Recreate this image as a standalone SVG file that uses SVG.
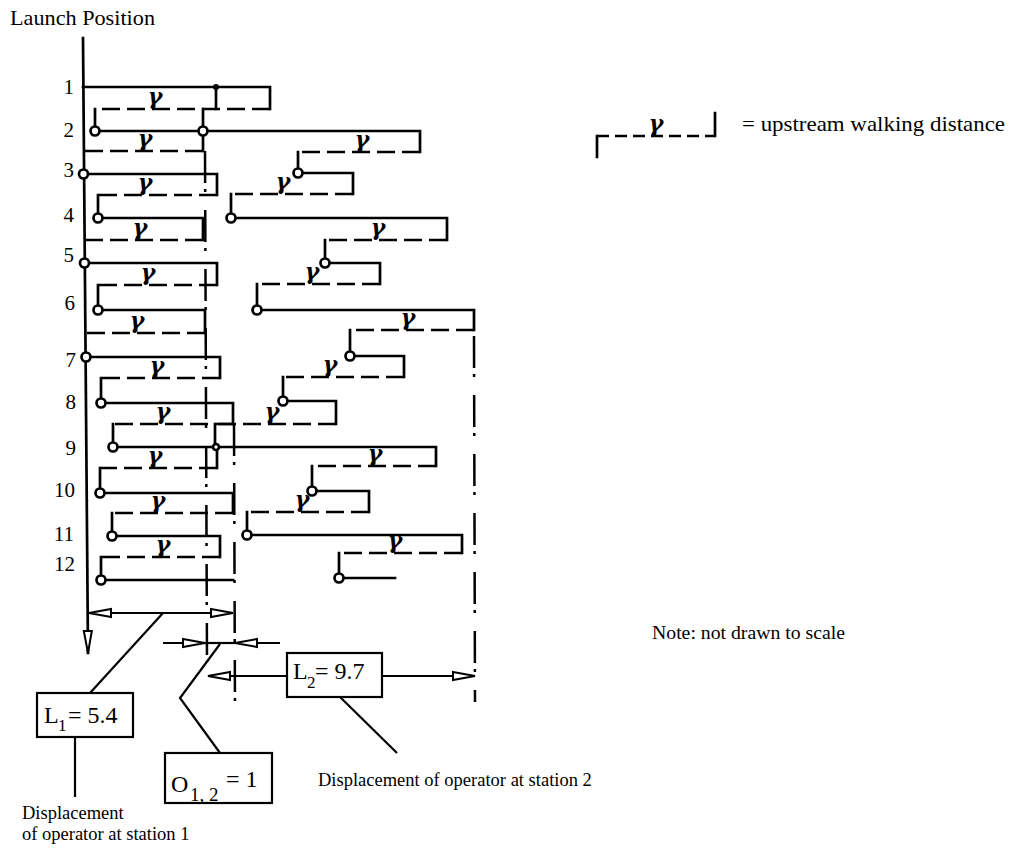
<svg xmlns="http://www.w3.org/2000/svg" width="1014" height="851" viewBox="0 0 1014 851">
<style>
  .ln{fill:none;stroke:#000;stroke-width:2.7;stroke-linecap:square}
  .ds{fill:none;stroke:#000;stroke-width:2.7;stroke-dasharray:18 7}
  .dd{fill:none;stroke:#000;stroke-width:2.5;stroke-dasharray:32 6 3 18}
  .thin{fill:none;stroke:#000;stroke-width:2.2}
  .c{fill:#fff;stroke:#000;stroke-width:2.7}
  .t{font-family:"Liberation Serif","Times New Roman",serif;fill:#000}
  .g{font-family:"DejaVu Serif","Liberation Serif",serif;font-style:italic;font-weight:bold;font-size:22px;fill:#000;text-anchor:middle}
  .num{font-family:"Liberation Serif","Times New Roman",serif;font-size:21px;fill:#000;text-anchor:end}
  .box{fill:#fff;stroke:#000;stroke-width:2.2}
</style>
<defs>
  <marker id="oa" markerUnits="userSpaceOnUse" markerWidth="26" markerHeight="14" refX="23" refY="6" orient="auto-start-reverse" overflow="visible">
    <path d="M1,2 L23,6 L1,10 Z" fill="#fff" stroke="#000" stroke-width="2"/>
  </marker>
</defs>

<rect width="1014" height="851" fill="#fff"/>

<g id="title">
  <text class="t" x="10" y="25" font-size="21" textLength="145" lengthAdjust="spacingAndGlyphs">Launch Position</text>
</g>

<g id="axis">
  <line class="ln" x1="83" y1="38" x2="88" y2="653" marker-end="url(#oa)"/>
</g>

<g id="numbers">
  <text class="num" x="74" y="94">1</text>
  <text class="num" x="74" y="137">2</text>
  <text class="num" x="74" y="177">3</text>
  <text class="num" x="74" y="222">4</text>
  <text class="num" x="74" y="262">5</text>
  <text class="num" x="75" y="310">6</text>
  <text class="num" x="76" y="367">7</text>
  <text class="num" x="76" y="409">8</text>
  <text class="num" x="76" y="455">9</text>
  <text class="num" x="75" y="497">10</text>
  <text class="num" x="74" y="541">11</text>
  <text class="num" x="75" y="571">12</text>
</g>

<g id="boundaries">
  <line class="dd" x1="205" y1="151" x2="207" y2="662"/>
  <line class="dd" x1="234" y1="424" x2="235" y2="716"/>
  <line class="dd" x1="474" y1="336" x2="475" y2="702"/>
</g>

<g id="station1">
  <path class="ln" d="M83,87 H270 V109 M95,109 V131 H203 V151 M83,174 H217 V195 M98,195 V218 H203 V240 M84,263 H217 V285 M98,285 V310 H205 V333 M86,357 H220 V378 M101,378 V403 H233 V424 M113,424 V447 H217 V468 M100,468 V493 H233 V513 M112,513 V536 H220 V557 M101,557 V580 H233"/>
  <path class="ds" d="M270,109 H95 M203,151 H83 M217,195 H98 M203,240 H83 M217,285 H98 M205,333 H85 M220,378 H101 M233,424 H113 M217,468 H100 M233,513 H112 M220,557 H101"/>
  <circle class="c" cx="95" cy="131" r="4.5"/>
  <circle class="c" cx="83.5" cy="174" r="4.5"/>
  <circle class="c" cx="98" cy="218" r="4.5"/>
  <circle class="c" cx="84.5" cy="263" r="4.5"/>
  <circle class="c" cx="98" cy="310" r="4.5"/>
  <circle class="c" cx="86" cy="357" r="4.5"/>
  <circle class="c" cx="101" cy="403" r="4.5"/>
  <circle class="c" cx="113" cy="447" r="4.5"/>
  <circle class="c" cx="100" cy="493" r="4.5"/>
  <circle class="c" cx="112" cy="536" r="4.5"/>
  <circle class="c" cx="101" cy="580" r="4.5"/>
  <text class="g" x="155" y="104">γ</text>
  <text class="g" x="145" y="146">γ</text>
  <text class="g" x="145" y="190">γ</text>
  <text class="g" x="140" y="235">γ</text>
  <text class="g" x="148" y="280">γ</text>
  <text class="g" x="137" y="328">γ</text>
  <text class="g" x="157" y="373">γ</text>
  <text class="g" x="163" y="419">γ</text>
  <text class="g" x="155" y="463">γ</text>
  <text class="g" x="158" y="508">γ</text>
  <text class="g" x="163" y="552">γ</text>
</g>

<g id="station2">
  <path class="ln" d="M216,87 V109 M203,109 V131 H420 V152 M298,152 V173 H353 V194 M231,194 V218 H447 V240 M325,240 V263 H380 V284 M257,284 V310 H474 V330 M350,330 V356 H404 V377 M283,377 V401 H336 V424 M215,424 V447 H436 V466 M312,466 V491 H369 V512 M247,512 V535 H462 V553 M339,553 V578 H395"/>
  <path class="ds" d="M420,152 H298 M353,194 H231 M447,240 H325 M380,284 H257 M474,330 H350 M404,377 H283 M336,424 H215 M436,466 H312 M369,512 H247 M462,553 H339"/>
  <circle cx="216" cy="87" r="3" fill="#000"/>
  <circle class="c" cx="203" cy="131" r="4.5"/>
  <circle class="c" cx="298" cy="173" r="4.5"/>
  <circle class="c" cx="231" cy="218" r="4.5"/>
  <circle class="c" cx="325" cy="263" r="4.5"/>
  <circle class="c" cx="257" cy="310" r="4.5"/>
  <circle class="c" cx="350" cy="356" r="4.5"/>
  <circle class="c" cx="283" cy="401" r="4.5"/>
  <circle class="c" cx="216" cy="447" r="3"/>
  <circle class="c" cx="312" cy="491" r="4.5"/>
  <circle class="c" cx="247" cy="535" r="4.5"/>
  <circle class="c" cx="339" cy="578" r="4.5"/>
  <text class="g" x="362" y="147">γ</text>
  <text class="g" x="283" y="189">γ</text>
  <text class="g" x="378" y="235">γ</text>
  <text class="g" x="312" y="279">γ</text>
  <text class="g" x="408" y="325">γ</text>
  <text class="g" x="330" y="372">γ</text>
  <text class="g" x="272" y="419">γ</text>
  <text class="g" x="375" y="461">γ</text>
  <text class="g" x="302" y="507">γ</text>
  <text class="g" x="395" y="548">γ</text>
</g>

<g id="dimensions">
  <line class="thin" x1="89" y1="613" x2="233" y2="613" marker-start="url(#oa)" marker-end="url(#oa)"/>
  <line class="thin" x1="205" y1="643" x2="235" y2="643"/>
  <line class="thin" x1="163" y1="643" x2="205" y2="643" marker-end="url(#oa)"/>
  <line class="thin" x1="280" y1="643" x2="235" y2="643" marker-end="url(#oa)"/>
  <line class="thin" x1="287" y1="676" x2="208" y2="676" marker-end="url(#oa)"/>
  <line class="thin" x1="382" y1="676" x2="475" y2="676" marker-end="url(#oa)"/>
</g>

<g id="leaders">
  <line class="thin" x1="163" y1="613" x2="90" y2="693"/>
  <polyline class="thin" points="220,644 180,698 220,753"/>
  <line class="thin" x1="340" y1="697" x2="397" y2="753"/>
  <line class="thin" x1="75" y1="737" x2="75" y2="797"/>
</g>

<g id="box-L1">
  <rect class="box" x="37" y="693" width="96" height="44"/>
  <text class="t" font-size="24"><tspan x="44" y="723">L</tspan><tspan x="58" y="731" font-size="17">1</tspan><tspan x="68" y="723">= 5.4</tspan></text>
</g>

<g id="box-O12">
  <rect class="box" x="165" y="753" width="107" height="50"/>
  <text class="t" font-size="24"><tspan x="171" y="792">O</tspan><tspan x="190" y="801" font-size="19">1, 2</tspan><tspan x="226" y="787">= 1</tspan></text>
</g>

<g id="box-L2">
  <rect class="box" x="287" y="653" width="95" height="44"/>
  <text class="t" font-size="24"><tspan x="293" y="679">L</tspan><tspan x="307" y="688" font-size="17">2</tspan><tspan x="315" y="679">= 9.7</tspan></text>
</g>

<g id="captions">
  <text class="t" x="318" y="786" font-size="18.5">Displacement of operator at station 2</text>
  <text class="t" x="22" y="819" font-size="18.5">Displacement</text>
  <text class="t" x="22" y="840" font-size="18.5">of operator at station 1</text>
  <text class="t" x="652" y="639" font-size="18" textLength="193" lengthAdjust="spacingAndGlyphs">Note: not drawn to scale</text>
</g>

<g id="legend">
  <path class="ln" d="M597,157 V136 M715,136 V113"/>
  <path class="ds" style="stroke-dasharray:12 6" d="M597,136 H715"/>
  <text class="g" x="656" y="131">γ</text>
  <text class="t" x="742" y="131" font-size="21" textLength="263" lengthAdjust="spacingAndGlyphs">= upstream walking distance</text>
</g>
</svg>
